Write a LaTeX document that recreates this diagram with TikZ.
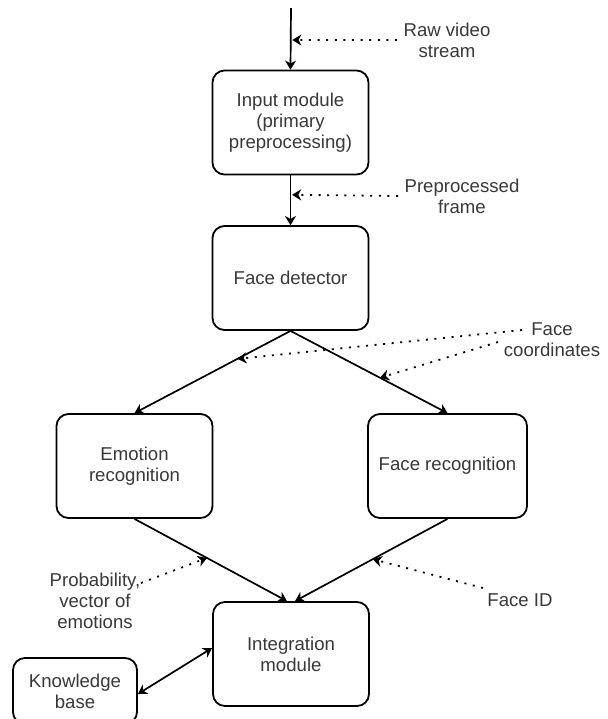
\documentclass[tikz,border=0pt]{standalone}
\usepackage{fontspec}
\setmainfont{Liberation Sans}
\usetikzlibrary{arrows.meta}

\begin{document}
\begin{tikzpicture}[x=0.5pt, y=-0.5pt,
        >={Stealth[length=4.5pt, width=5.5pt, inset=1.4pt]},
        block/.style={draw=black, line width=0.9pt, rounded corners=6pt, align=center,
            text=black!78, minimum width=78pt, minimum height=52pt, inner sep=0pt},
        note/.style={align=center, text=black!78},
        flow/.style={->, line width=0.85pt},
        hint/.style={->, line width=0.9pt, dash pattern=on 1pt off 3.3pt}]
        \useasboundingbox (0,0) rectangle (607,719);
        \fontsize{9.3}{10.4}\selectfont

        % Processing blocks
        \node[block] (input) at (290.5,122.5) {Input module\\(primary\\preprocessing)};
        \node[block] (detector) at (290.5,278) {Face detector};
        \node[block] (emotion) at (134.5,466) {Emotion\\recognition};
        \node[block, minimum width=79.5pt] (facerec) at (447.5,466) {Face recognition};
        \node[block] (integ) at (291,654) {Integration\\module};
        \node[block, minimum width=62pt, minimum height=33pt] (knowledge) at (75,691) {Knowledge\\base};

        % Labels of the data
        \node[note] (raw) at (447,40) {Raw video\\stream};
        \node[note] (pre) at (462,196) {Preprocessed\\frame};
        \node[note] (coords) at (552,340) {Face\\coordinates};
        \node[note] (prob) at (95,601) {Probability,\\vector of\\emotions};
        \node[note] (faceid) at (520,600) {Face ID};

        % Free ends of the dotted pointers
        \coordinate (top) at (291,8);
        \coordinate (fc1) at (522,330);
        \coordinate (fc2) at (498,342);
        \coordinate (pb) at (141,583);
        \coordinate (fid) at (483,588);

        % Main data flow
        \draw[flow] (top) -- (input.north) coordinate[pos=0.52] (t1);
        \draw[flow] (input.south) -- (detector.north) coordinate[pos=0.39] (t2);
        \draw[flow] (detector.south) -- (emotion.north) coordinate[pos=0.34] (t3);
        \draw[flow] (detector.south) -- (facerec.north) coordinate[pos=0.57] (t4);
        \draw[flow] (emotion.south) -- ([xshift=-2pt]integ.north) coordinate[pos=0.475] (t5);
        \draw[flow] (facerec.south) -- ([xshift=2pt]integ.north) coordinate[pos=0.49] (t6);
        \draw[<->, line width=0.85pt] ([yshift=-1.5pt]knowledge.east) -- ([yshift=3pt]integ.west);

        % Dotted pointers to the arrows
        \draw[hint] (raw.west) -- ([xshift=0.8pt]t1);
        \draw[hint] (pre.west) -- ([xshift=0.8pt]t2);
        \draw[hint] (fc1) -- (t3);
        \draw[hint] (fc2) -- (t4);
        \draw[hint] (pb) -- (t5);
        \draw[hint] (fid) -- (t6);
\end{tikzpicture}
\end{document}
